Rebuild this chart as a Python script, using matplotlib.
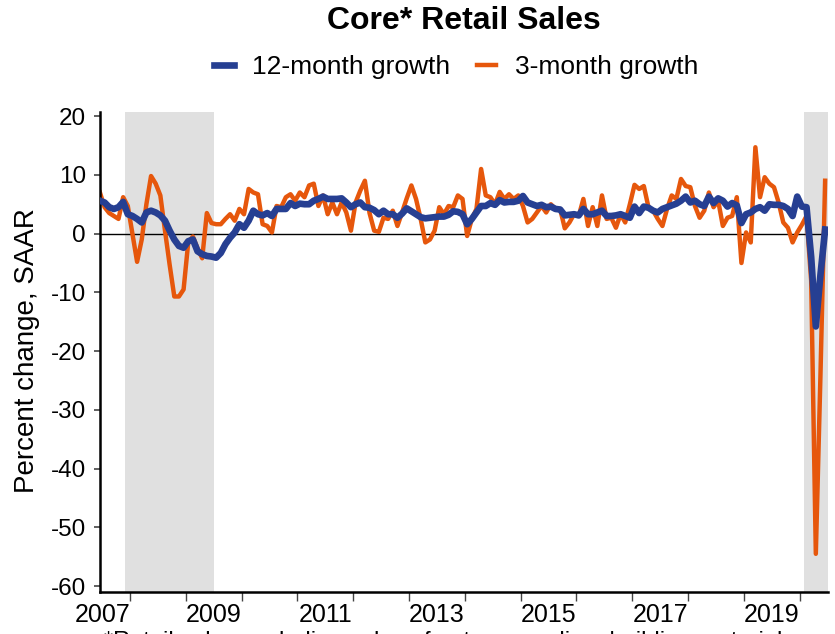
import numpy as np
import pandas as pd
import matplotlib
matplotlib.use("Agg")
import matplotlib.pyplot as plt

plt.rcParams['font.family'] = ['Liberation Sans', 'DejaVu Sans']
plt.rcParams['axes.unicode_minus'] = False

# monthly observations, Jun 2007 - Jun 2020
months = pd.date_range("2007-06-01", "2020-06-01", freq="MS")

growth_12m = [
    5.6, 5.3, 4.5, 4.2, 4.5, 5.4, 3.3, 3.0, 2.5, 1.9,
    3.6, 3.9, 3.6, 3.1, 2.2, 0.5, -1.0, -2.1, -2.4, -1.3,
    -1.0, -3.0, -3.5, -3.8, -3.9, -4.1, -3.3, -1.8, -0.7, 0.2,
    1.6, 1.0, 2.2, 3.9, 3.3, 3.1, 3.5, 3.0, 4.2, 4.2,
    4.2, 5.2, 4.7, 5.1, 5.0, 5.0, 5.6, 5.9, 6.3, 5.9,
    5.9, 5.9, 6.0, 5.3, 4.5, 5.0, 5.3, 4.5, 4.4, 4.0,
    3.3, 3.9, 3.3, 3.3, 2.7, 3.4, 4.3, 3.8, 3.3, 2.8,
    2.6, 2.7, 2.8, 2.9, 2.9, 3.2, 3.8, 3.7, 3.3, 1.6,
    2.5, 3.6, 4.7, 4.7, 5.2, 4.9, 5.7, 5.3, 5.4, 5.4,
    5.6, 6.4, 5.3, 5.0, 4.7, 4.9, 4.5, 4.6, 4.2, 4.1,
    3.1, 3.2, 3.3, 3.1, 4.2, 3.3, 3.3, 3.6, 3.9, 3.0,
    3.0, 3.1, 3.3, 3.0, 2.7, 4.6, 3.5, 4.6, 4.4, 3.9,
    3.6, 4.2, 4.5, 4.8, 5.1, 5.6, 6.3, 5.3, 5.6, 5.0,
    4.7, 6.3, 5.2, 6.0, 5.6, 4.6, 5.2, 4.8, 1.8, 3.3,
    3.6, 4.2, 4.5, 3.9, 5.0, 4.9, 4.9, 4.7, 4.2, 3.0,
    6.3, 4.6, 4.5, -4.0, -15.8, -7.0, 0.7,
]

growth_3m = [
    7.0, 4.5, 3.5, 3.0, 2.5, 6.2, 4.7, 0.0, -4.8, -1.0,
    5.0, 9.8, 8.5, 6.5, 0.5, -5.3, -10.7, -10.7, -9.5, -1.5,
    -0.5, -2.5, -4.2, 3.5, 1.8, 1.6, 1.6, 2.5, 3.3, 2.2,
    4.2, 3.3, 7.6, 7.0, 6.7, 1.6, 1.3, 0.2, 4.7, 4.5,
    6.2, 6.7, 5.6, 7.0, 6.2, 8.2, 8.5, 4.7, 6.5, 3.3,
    5.3, 3.3, 5.3, 3.6, 0.5, 5.3, 7.3, 9.0, 3.5, 0.5,
    0.3, 2.7, 2.5, 3.9, 1.3, 3.6, 6.0, 8.2, 5.9, 2.5,
    -1.5, -1.0, 0.5, 4.5, 3.3, 4.7, 4.5, 6.5, 5.9, -0.4,
    2.5, 4.2, 11.0, 6.5, 6.2, 5.0, 7.1, 5.9, 6.7, 5.9,
    6.5, 4.7, 1.9, 2.5, 3.6, 4.7, 3.6, 5.0, 4.2, 4.2,
    0.9, 1.9, 3.3, 3.0, 5.9, 1.3, 4.5, 1.3, 6.5, 2.5,
    2.7, 1.0, 3.3, 1.9, 5.0, 8.3, 7.6, 8.1, 4.5, 3.9,
    2.5, 1.3, 4.2, 6.5, 5.9, 9.3, 8.1, 7.9, 4.7, 2.7,
    3.9, 7.0, 4.5, 5.6, 1.3, 2.7, 3.0, 6.2, -5.0, 0.2,
    -1.5, 14.7, 6.2, 9.6, 8.5, 7.9, 5.3, 1.9, 1.0, -1.5,
    0.2, 1.5, 3.0, -8.0, -54.5, -24.0, 9.0,
]

# recessions (start, end) as decimal years
recessions = [(2007 + 11 / 12, 2009.5), (2020 + 1 / 12, 2020.6)]

year_ticks = list(range(2008, 2021))
label_years = [2007, 2009, 2011, 2013, 2015, 2017, 2019]
y_ticks = [20, 10, 0, -10, -20, -30, -40, -50, -60]

t = months.year + (months.month - 0.5) / 12

blue = '#263f92'
orange = '#e6570c'

fig = plt.figure(figsize=(8.35, 6.34), dpi=100)
ax = fig.add_axes([100 / 835, 1 - 592 / 634, 728 / 835, 480 / 634])

for a, b in recessions:
    ax.axvspan(a, b, color='#e0e0e0', lw=0, zorder=0)

ax.axhline(0, color='black', lw=1.0, zorder=1)
l3, = ax.plot(t, growth_3m, color=orange, lw=3.2, zorder=2, solid_joinstyle='round')
l12, = ax.plot(t, growth_12m, color=blue, lw=4.8, zorder=3, solid_joinstyle='round')

ax.set_xlim(2007.46, 2020.51)
ax.set_ylim(-61.0, 20.7)

for s in ['top', 'right']:
    ax.spines[s].set_visible(False)
for s in ['left', 'bottom']:
    ax.spines[s].set_linewidth(1.8)
    ax.spines[s].set_color('black')

ax.set_yticks(y_ticks)
ax.tick_params(axis='y', labelsize=17.5, length=4, width=1.2, color='#444444', pad=6)

ax.set_xticks(year_ticks, labels=[''] * len(year_ticks))
ax.set_xticks([y + 0.5 for y in label_years], labels=[str(y) for y in label_years], minor=True)
ax.tick_params(axis='x', which='major', length=6.5, width=1, color='#444444')
ax.tick_params(axis='x', which='minor', length=0, labelsize=18, pad=8)

fig.text(27 / 835, 1 - 351 / 634, 'Percent change, SAAR', rotation=90,
         ha='center', va='center', fontsize=20)

fig.text(464 / 835, 1 - 21 / 634, 'Core* Retail Sales', ha='center', va='center',
         fontsize=23, fontweight='bold')

fig.legend([l12, l3], ['12-month growth', '3-month growth'], loc='center',
           bbox_to_anchor=(456 / 835, 1 - 67 / 634), ncol=2, frameon=False,
           fontsize=19, handlelength=0.75, handletextpad=0.7, columnspacing=1.0)

fig.text(104 / 835, 1 - 648 / 634,
         '*Retail sales excluding sales of autos, gasoline, building materials and food services',
         ha='left', va='baseline', fontsize=17)

fig.savefig('out.png', dpi=100)
